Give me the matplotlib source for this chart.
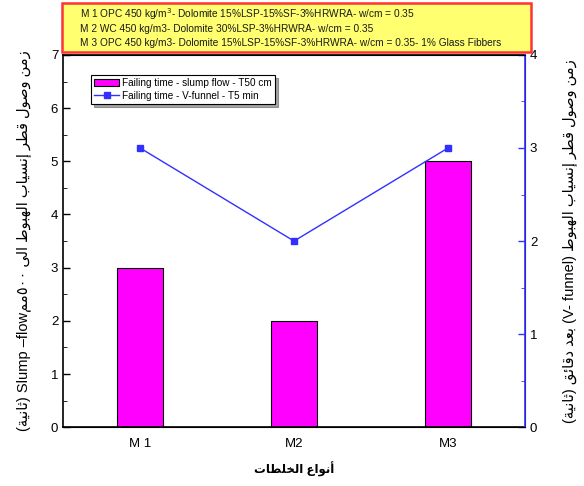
import matplotlib
matplotlib.use('Agg')
import matplotlib.pyplot as plt
from matplotlib.patches import Rectangle, Patch
from matplotlib.lines import Line2D

plt.rcParams['font.family'] = ['Liberation Sans', 'DejaVu Sans']

# بيانات الخلطات
mixes = ['M 1', 'M2', 'M3']
slump_t50 = [3, 2, 5]      # زمن الانسياب T50 (ثانية)
vfunnel_t5 = [3, 2, 3]     # زمن V-funnel بعد 5 دقائق (ثانية)
mix_notes = [
    'M 1 OPC 450 kg/m$^3$- Dolomite 15%LSP-15%SF-3%HRWRA- w/cm = 0.35',
    'M 2 WC 450 kg/m3- Dolomite 30%LSP-3%HRWRA- w/cm = 0.35',
    'M 3 OPC 450 kg/m3- Dolomite 15%LSP-15%SF-3%HRWRA- w/cm = 0.35- 1% Glass Fibbers',
]

# تشكيل الحروف العربية (matplotlib لا يقوم بوصل الحروف)
FOUR = {'ئ': 0xFE89, 'ب': 0xFE8F, 'ت': 0xFE95, 'ث': 0xFE99, 'ج': 0xFE9D,
        'ح': 0xFEA1, 'خ': 0xFEA5, 'س': 0xFEB1, 'ش': 0xFEB5, 'ص': 0xFEB9,
        'ض': 0xFEBD, 'ط': 0xFEC1, 'ظ': 0xFEC5, 'ع': 0xFEC9, 'غ': 0xFECD,
        'ف': 0xFED1, 'ق': 0xFED5, 'ك': 0xFED9, 'ل': 0xFEDD, 'م': 0xFEE1,
        'ن': 0xFEE5, 'ه': 0xFEE9, 'ي': 0xFEF1}
TWO = {'آ': 0xFE81, 'أ': 0xFE83, 'ؤ': 0xFE85, 'إ': 0xFE87, 'ا': 0xFE8D,
       'ة': 0xFE93, 'د': 0xFEA9, 'ذ': 0xFEAB, 'ر': 0xFEAD, 'ز': 0xFEAF,
       'و': 0xFEED, 'ى': 0xFEEF}


def ar(s):
    out = []
    for i, c in enumerate(s):
        if c not in FOUR and c not in TWO:
            out.append(c)
            continue
        prev = s[i - 1] if i > 0 else ''
        nxt = s[i + 1] if i + 1 < len(s) else ''
        jp = prev in FOUR
        jn = c in FOUR and (nxt in FOUR or nxt in TWO)
        base = FOUR.get(c, TWO.get(c))
        if jp and jn:
            off = 3
        elif jn:
            off = 2
        elif jp:
            off = 1
        else:
            off = 0
        out.append(chr(base + off))
    return ''.join(out)[::-1]


xlabel = ar('أنواع الخلطات')
ylabel_left = ('(' + ar('ثانية') + ') Slump \u2013flow' + ar('مم') + '٥٠٠ '
               + ar('زمن وصول قطر إنسياب الهبوط الى'))
ylabel_right = ('(' + ar('ثانية') + ') ' + ar('بعد دقائق') + ' (V- funnel) '
                + ar('زمن وصول قطر إنسياب الهبوط'))

fig = plt.figure(figsize=(5.84, 4.86), dpi=100)
ax = fig.add_axes([0.108, 0.121, 0.791, 0.766])
ax2 = ax.twinx()

x = list(range(1, len(mixes) + 1))
ax.bar(x, slump_t50, width=0.3, color='#ff00ff', edgecolor='black', linewidth=0.8, zorder=2)
ax2.plot(x, vfunnel_t5, color='#3030ff', lw=1, marker='s', ms=4,
         mfc='#3030ff', mec='#3030ff')

ax.set_xlim(0.5, 3.5)
ax.set_ylim(0, 7)
ax2.set_ylim(0, 4)
ax.set_xticks(x)
ax.set_xticklabels(mixes)
ax.set_yticks(range(0, 8))
ax.set_yticks([v + 0.5 for v in range(7)], minor=True)
ax2.set_yticks(range(0, 5))
ax2.set_yticks([v + 0.5 for v in range(4)], minor=True)

ax.tick_params(axis='both', direction='in', labelsize=9.5, length=5, width=1, colors='black')
ax.tick_params(axis='y', which='minor', direction='in', length=3)
ax.tick_params(axis='x', pad=8)
ax2.tick_params(axis='y', direction='in', length=5, width=1, color='#3030ff',
                labelcolor='black', labelsize=9.5)
ax2.tick_params(axis='y', which='minor', direction='in', length=3, color='#3030ff')
for sp in ['left', 'bottom', 'top']:
    ax.spines[sp].set_linewidth(1.2)
ax2.spines['right'].set_color('#3030ff')
ax2.spines['right'].set_linewidth(1.2)
ax2.spines['left'].set_visible(False)

ax.set_xlabel(xlabel, fontsize=8.5, fontweight='bold', labelpad=8)
ax.set_ylabel(ylabel_left, fontsize=10.5, labelpad=14)
ax2.set_ylabel(ylabel_right, fontsize=10.5, rotation=90, labelpad=18)

# الإطار الأصفر لوصف الخلطات
fig.patches.append(Rectangle((0.107, 0.893), 0.802, 0.1, transform=fig.transFigure,
                             facecolor='#ffff70', edgecolor='#ff3333', lw=1.8, zorder=5))
for i, note in enumerate(mix_notes):
    fig.text(0.137, 0.971 - i * 0.03, note, fontsize=7.3,
             va='center', color='#1a1a1a', zorder=6)

handles = [Patch(facecolor='#ff00ff', edgecolor='black', lw=0.8),
           Line2D([], [], color='#3030ff', lw=1, marker='s', ms=4)]
leg = ax.legend(handles, ['Failing time - slump flow - T50 cm', 'Failing time - V-funnel - T5 min'],
                loc='upper left', bbox_to_anchor=(0.05, 0.96), fontsize=7.2, frameon=True,
                fancybox=False, shadow=True, edgecolor='black', framealpha=1,
                borderpad=0.3, handlelength=2.5, handletextpad=0.3, labelspacing=0.3)
leg.get_frame().set_linewidth(0.8)

fig.savefig('out.png', dpi=100)
